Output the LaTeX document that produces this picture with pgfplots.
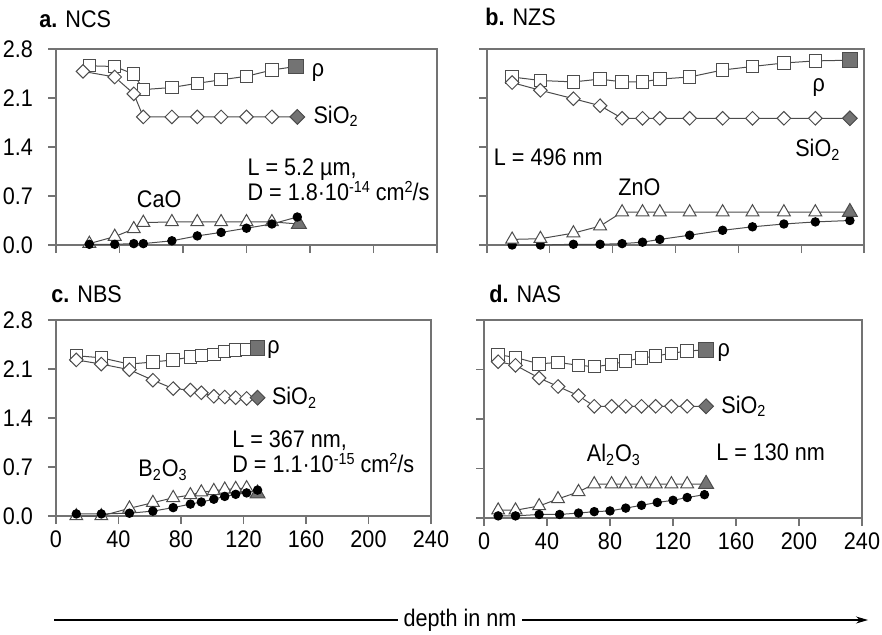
\documentclass[border=0pt]{standalone}
\usepackage{fontspec}
\setmainfont{Liberation Sans}[FakeStretch=0.9]
\usepackage{pgfplots}
\pgfplotsset{compat=1.18}
\usetikzlibrary{arrows.meta}
\definecolor{axg}{gray}{0.45}
\definecolor{ln}{gray}{0.3}
\definecolor{mk}{gray}{0.3}
\definecolor{fg}{gray}{0.45}
\newcommand\lf{\fontsize{12}{12}\selectfont}
\newcommand\supx[1]{\raisebox{0.33em}{\fontsize{8}{8}\selectfont #1}}
\tikzset{lab/.style={anchor=base west, font=\lf, inner sep=0pt},
         labc/.style={anchor=base, font=\lf, inner sep=0pt},
         labe/.style={anchor=base east, font=\lf, inner sep=0pt}}
\pgfplotsset{
 panel/.style={scale only axis, anchor=south west, xmin=0, xmax=240, ymin=0, ymax=2.8,
  xtick={0,40,...,240}, ytick={0,0.7,1.4,2.1,2.8}, tick align=outside,
  xtick pos=left, ytick pos=left, major tick length=4pt,
  axis line style={draw=axg, line width=0.6pt},
  tick style={draw=axg, line width=0.6pt},
  tick label style={font=\lf},
  /pgf/number format/assume math mode=true,
  yticklabel style={xshift=-4pt, /pgf/number format/fixed, /pgf/number format/fixed zerofill, /pgf/number format/precision=1},
  clip=false},
 rho/.style={draw=ln, line width=0.5pt, mark=square*, mark size=3.1pt, mark options={fill=white, draw=mk, line width=0.5pt}},
 sio/.style={draw=ln, line width=0.5pt, mark=square*, mark size=2.4pt, mark options={rotate=45, fill=white, draw=mk, line width=0.5pt}},
 tri/.style={draw=ln, line width=0.5pt, mark=triangle*, mark size=3.7pt, mark options={fill=white, draw=mk, line width=0.5pt}},
 dot/.style={draw=ln, line width=0.5pt, mark=*, mark size=2.1pt, mark options={fill=black, draw=black}},
 frho/.style={only marks, mark=square*, mark size=3.7pt, mark options={fill=fg, draw=mk, line width=0.5pt}},
 fsio/.style={only marks, mark=square*, mark size=2.6pt, mark options={rotate=45, fill=fg, draw=mk, line width=0.5pt}},
 ftri/.style={only marks, mark=triangle*, mark size=4.3pt, mark options={fill=fg, draw=mk, line width=0.5pt}}
}
\begin{document}
\begin{tikzpicture}
\path[use as bounding box] (0,0) rectangle (441pt,317pt);
% ---------------- a. NCS
\begin{axis}[panel, at={(28pt,194.5pt)}, width=190.5pt, height=98pt, xticklabels={}]
\addplot[rho] coordinates {(21,2.56)(37,2.55)(49,2.44)(55,2.22)(73,2.25)(89,2.31)(104,2.36)(120,2.41)(136,2.50)(151,2.55)};
\addplot[frho] coordinates {(151,2.55)};
\addplot[sio] coordinates {(17,2.48)(37,2.40)(49,2.16)(55,1.83)(73,1.83)(89,1.83)(104,1.83)(120,1.83)(136,1.83)(152,1.83)};
\addplot[fsio] coordinates {(152,1.83)};
\addplot[tri] coordinates {(21,0.02)(37,0.12)(49,0.23)(55,0.32)(73,0.33)(89,0.33)(104,0.33)(120,0.33)(136,0.33)(153,0.30)};
\addplot[ftri] coordinates {(153,0.30)};
\addplot[dot] coordinates {(21,0.01)(37,0.01)(49,0.02)(55,0.02)(73,0.06)(89,0.13)(104,0.18)(120,0.24)(136,0.30)(152,0.40)};
\node[lab] at (axis cs:161,2.40) {ρ};
\node[lab] at (axis cs:162,1.74) {SiO\textsubscript{2}};
\node[labe] (Da) at (axis cs:235.5,0.64) {D = 1.8·10\supx{-14} cm\supx{2}/s};
\node[lab] at ([yshift=12.5pt]Da.base west) {L = 5.2 µm,};
\node[labc] at (axis cs:65,0.53) {CaO};
\end{axis}
% ---------------- b. NZS
\begin{axis}[panel, at={(243.5pt,194.5pt)}, width=188.5pt, height=98pt, xticklabels={}, yticklabels={}]
\addplot[rho] coordinates {(16,2.40)(34,2.35)(55,2.33)(72,2.37)(86,2.33)(99,2.33)(110,2.37)(129,2.40)(150,2.50)(169,2.55)(189,2.60)(209,2.63)(231,2.64)};
\addplot[frho] coordinates {(231,2.64)};
\addplot[sio] coordinates {(16,2.32)(34,2.21)(55,2.09)(72,1.99)(86,1.81)(99,1.81)(110,1.81)(129,1.81)(150,1.81)(169,1.81)(189,1.81)(209,1.81)(231,1.81)};
\addplot[fsio] coordinates {(231,1.81)};
\addplot[dot] coordinates {(16,0.0)(34,0.0)(55,0.01)(72,0.01)(86,0.02)(99,0.04)(110,0.08)(129,0.14)(150,0.21)(169,0.26)(189,0.30)(209,0.33)(231,0.35)};
\addplot[tri] coordinates {(16,0.08)(34,0.09)(55,0.17)(72,0.27)(86,0.47)(99,0.47)(110,0.47)(129,0.47)(150,0.47)(169,0.47)(189,0.47)(209,0.47)(231,0.47)};
\addplot[ftri] coordinates {(231,0.47)};
\node[lab] at (axis cs:207,2.19) {ρ};
\node[lab] at (axis cs:196,1.26) {SiO\textsubscript{2}};
\node[labc] at (axis cs:39,1.14) {L = 496 nm};
\node[labc] at (axis cs:97,0.71) {ZnO};
\end{axis}
% ---------------- c. NBS
\begin{axis}[panel, at={(28pt,59pt)}, width=187.5pt, height=98pt]
\addplot[rho] coordinates {(13,2.29)(29,2.26)(47,2.17)(62,2.20)(75,2.23)(86,2.27)(93,2.29)(101,2.31)(108,2.35)(115,2.37)(122,2.38)(129,2.40)};
\addplot[frho] coordinates {(129,2.40)};
\addplot[sio] coordinates {(13,2.23)(29,2.17)(47,2.09)(62,1.94)(75,1.82)(86,1.80)(93,1.76)(101,1.71)(108,1.70)(115,1.69)(122,1.68)(129,1.69)};
\addplot[fsio] coordinates {(129,1.69)};
\addplot[tri] coordinates {(13,0.0)(29,0.0)(47,0.11)(62,0.19)(75,0.26)(86,0.30)(93,0.34)(101,0.36)(108,0.38)(115,0.39)(122,0.40)(129,0.32)};
\addplot[ftri] coordinates {(129,0.32)};
\addplot[dot] coordinates {(13,0.03)(29,0.03)(47,0.04)(62,0.07)(75,0.12)(86,0.17)(93,0.20)(101,0.24)(108,0.28)(115,0.31)(122,0.33)(129,0.37)};
\node[lab] at (axis cs:135,2.32) {ρ};
\node[lab] at (axis cs:138,1.59) {SiO\textsubscript{2}};
\node[labe] (Dc) at (axis cs:229.5,0.62) {D = 1.1·10\supx{-15} cm\supx{2}/s};
\node[lab] at ([yshift=12.5pt]Dc.base west) {L = 367 nm,};
\node[labc] at (axis cs:68.5,0.56) {B\textsubscript{2}O\textsubscript{3}};
\end{axis}
% ---------------- d. NAS
\begin{axis}[panel, at={(242pt,58pt)}, width=189pt, height=99pt, yticklabels={}]
\addplot[rho] coordinates {(9,2.31)(20,2.27)(35,2.18)(47,2.20)(60,2.16)(70,2.14)(81,2.17)(90,2.22)(100,2.26)(109,2.29)(119,2.33)(129,2.36)(141,2.38)};
\addplot[frho] coordinates {(141,2.38)};
\addplot[sio] coordinates {(9,2.21)(20,2.16)(35,1.98)(47,1.86)(60,1.73)(70,1.58)(81,1.58)(90,1.58)(100,1.58)(109,1.58)(119,1.58)(129,1.58)(141,1.58)};
\addplot[fsio] coordinates {(141,1.58)};
\addplot[tri] coordinates {(9,0.11)(20,0.11)(35,0.17)(47,0.27)(60,0.37)(70,0.48)(81,0.48)(90,0.48)(100,0.48)(109,0.48)(119,0.48)(129,0.48)(141,0.48)};
\addplot[ftri] coordinates {(141,0.48)};
\addplot[dot] coordinates {(9,0.03)(20,0.03)(35,0.05)(48,0.05)(60,0.07)(70,0.09)(80,0.10)(90,0.14)(100,0.18)(110,0.22)(120,0.25)(129,0.29)(140,0.33)};
\node[lab] at (axis cs:148,2.28) {ρ};
\node[lab] at (axis cs:150.5,1.48) {SiO\textsubscript{2}};
\node[labc] at (axis cs:182,0.82) {L = 130 nm};
\node[labc] at (axis cs:82.5,0.80) {Al\textsubscript{2}O\textsubscript{3}};
\end{axis}
% ---------------- titles
\node[lab] at (19.5pt,303.5pt) {\textbf{a.} NCS};
\node[lab] at (242.5pt,304.5pt) {\textbf{b.} NZS};
\node[lab] at (25.5pt,166pt) {\textbf{c.} NBS};
\node[lab] at (244.5pt,166pt) {\textbf{d.} NAS};
% ---------------- depth arrow
\draw[-{Stealth[length=6pt,width=3.5pt]}, line width=0.6pt] (27pt,7pt) -- (434pt,7pt);
\node[fill=white, font=\lf, inner sep=3pt] at (230pt,7pt) {depth in nm};
\end{tikzpicture}
\end{document}
